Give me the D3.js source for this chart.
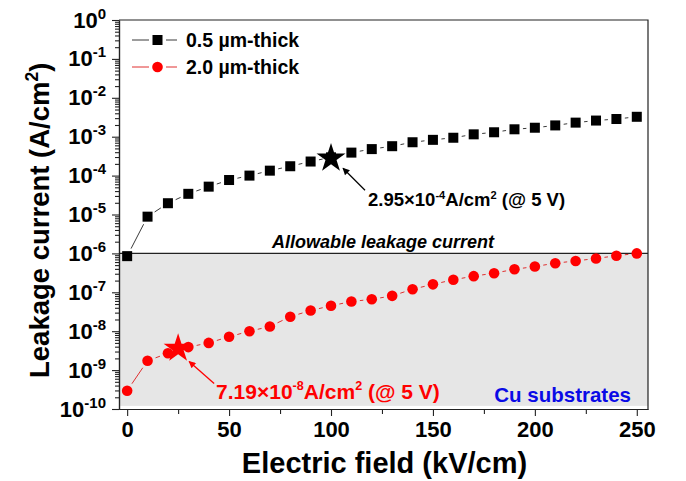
<!DOCTYPE html>
<html>
<head>
<meta charset="utf-8">
<script src="https://cdn.jsdelivr.net/npm/d3@7"></script>
<style>
  body { margin: 0; background: #fff; }
  svg { font-family: "Liberation Sans", Arial, sans-serif; font-weight: bold; }
</style>
</head>
<body>
<svg id="chart" width="686" height="481"></svg>
<script>
// Electric field values (kV/cm)
var fieldValues = [0, 10, 20, 30, 40, 50, 60, 70, 80, 90, 100, 110, 120, 130,
  140, 150, 160, 170, 180, 190, 200, 210, 220, 230, 240, 250];

// Leakage current (A/cm2) for each film
var thinCurrent = [8.5e-7, 8.8e-6, 1.95e-5, 3.4e-5, 5.2e-5, 7.7e-5, 1.0e-4, 1.34e-4,
  1.74e-4, 2.3e-4, 2.95e-4, 3.9e-4, 4.8e-4, 5.7e-4, 7.2e-4, 8.3e-4, 9.4e-4, 1.15e-3,
  1.3e-3, 1.55e-3, 1.7e-3, 1.95e-3, 2.3e-3, 2.6e-3, 2.85e-3, 3.25e-3];
var thickCurrent = [2.95e-10, 1.74e-9, 2.7e-9, 3.9e-9, 5.0e-9, 7.2e-9, 1.0e-8, 1.32e-8,
  2.36e-8, 3.4e-8, 4.5e-8, 5.8e-8, 6.6e-8, 8.1e-8, 1.2e-7, 1.6e-7, 2.1e-7, 2.6e-7,
  3.1e-7, 3.9e-7, 4.6e-7, 5.6e-7, 6.4e-7, 7.4e-7, 8.7e-7, 1.0e-6];

var seriesNames = ["0.5 \u00b5m-thick", "2.0 \u00b5m-thick"];

// Operating points at 5 V
var starField = [100, 25];
var starCurrent = [2.95e-4, 3.8e-9];
var starLabels = ["2.95\u00d710", "7.19\u00d710"];
var starExponents = ["-4", "-8"];

// Allowable leakage limit and bottom of the shaded band
var allowableCurrent = 1e-6;
var shadeFloor = 1.2e-10;

var xDomain = [-4, 255.5];
var yDomain = [1e-10, 1];
var xMajorTicks = [0, 50, 100, 150, 200, 250];
var xMinorTicks = [25, 75, 125, 175, 225];
var yExponents = [0, -1, -2, -3, -4, -5, -6, -7, -8, -9, -10];

var FONT_SIZE_TICK = 22;
var BLACK_LINE = "#3a3a3a";
var RED = "#ff0000";
var RED_LINE = "#e03030";

var svg = d3.select("#chart");
var plotLeft = 119, plotRight = 648, plotTop = 20, plotBottom = 409;

var xScale = d3.scaleLinear().domain(xDomain).range([plotLeft, plotRight]);
var yScale = d3.scaleLog().domain(yDomain).range([plotBottom, plotTop]);

// append text pieces, some of them raised as superscripts
function richText(sel, parts, supSize, rise) {
  var raised = false;
  parts.forEach(function (p) {
    var t = sel.append("tspan").text(p[0]);
    if (p[1]) {
      t.attr("font-size", supSize);
      if (!raised) t.attr("dy", -rise);
      raised = true;
    } else if (raised) {
      t.attr("dy", rise);
      raised = false;
    }
  });
}

// shaded region below allowable current
svg.append("rect")
  .attr("x", plotLeft)
  .attr("y", yScale(allowableCurrent))
  .attr("width", plotRight - plotLeft)
  .attr("height", yScale(shadeFloor) - yScale(allowableCurrent))
  .attr("fill", "#e6e6e6");

svg.append("line")
  .attr("x1", plotLeft).attr("x2", plotRight)
  .attr("y1", yScale(allowableCurrent)).attr("y2", yScale(allowableCurrent))
  .attr("stroke", "#222").attr("stroke-width", 1.1);

// frame (top and right)
svg.append("path")
  .attr("d", "M" + plotLeft + "," + plotTop + "H" + plotRight + "V" + plotBottom)
  .attr("fill", "none").attr("stroke", "#222").attr("stroke-width", 1.2);

// series lines with a small gap near each symbol
function drawGappedLine(values, color, gap) {
  var pts = fieldValues.map(function (f, i) { return [xScale(f), yScale(values[i])]; });
  var g = svg.append("g");
  for (var i = 0; i < pts.length - 1; i++) {
    var dx = pts[i + 1][0] - pts[i][0], dy = pts[i + 1][1] - pts[i][1];
    var len = Math.sqrt(dx * dx + dy * dy);
    if (len <= gap * 2) continue;
    var ux = dx / len, uy = dy / len;
    g.append("line")
      .attr("x1", pts[i][0] + ux * gap).attr("y1", pts[i][1] + uy * gap)
      .attr("x2", pts[i + 1][0] - ux * gap).attr("y2", pts[i + 1][1] - uy * gap)
      .attr("stroke", color).attr("stroke-width", 1);
  }
}

drawGappedLine(thinCurrent, BLACK_LINE, 8.5);
drawGappedLine(thickCurrent, RED_LINE, 8.5);

var SQ = 10;
svg.append("g").selectAll("rect")
  .data(fieldValues)
  .enter().append("rect")
  .attr("x", function (d) { return xScale(d) - SQ / 2; })
  .attr("y", function (d, i) { return yScale(thinCurrent[i]) - SQ / 2; })
  .attr("width", SQ).attr("height", SQ)
  .attr("fill", "#000");

svg.append("g").selectAll("circle")
  .data(fieldValues)
  .enter().append("circle")
  .attr("cx", function (d) { return xScale(d); })
  .attr("cy", function (d, i) { return yScale(thickCurrent[i]); })
  .attr("r", 5.3)
  .attr("fill", RED);

// stars + annotations
var star = d3.symbol().type(d3.symbolStar).size(260);
var starColors = ["#000", RED];
var annotations = [
  { size: 18.5, tx: 37, ty: 49, ax1: 34, ay1: 33, ax2: 12, ay2: 11 },
  { size: 21, tx: 38, ty: 51, ax1: 36, ay1: 36, ax2: 11, ay2: 14 }
];

var defs = svg.append("defs");
starColors.forEach(function (c, i) {
  defs.append("marker")
    .attr("id", "arrow" + i)
    .attr("viewBox", "0 0 10 10")
    .attr("refX", 9).attr("refY", 5)
    .attr("markerWidth", 9).attr("markerHeight", 7)
    .attr("markerUnits", "userSpaceOnUse")
    .attr("orient", "auto")
    .append("path").attr("d", "M0,0L10,5L0,10z").attr("fill", c);
});

starField.forEach(function (f, i) {
  var sx = xScale(f), sy = yScale(starCurrent[i]);
  var a = annotations[i];
  svg.append("path")
    .attr("d", star)
    .attr("transform", "translate(" + sx + "," + (sy + 1) + ")")
    .attr("fill", starColors[i]);

  svg.append("line")
    .attr("x1", sx + a.ax1).attr("y1", sy + a.ay1)
    .attr("x2", sx + a.ax2).attr("y2", sy + a.ay2)
    .attr("stroke", starColors[i]).attr("stroke-width", 1.3)
    .attr("marker-end", "url(#arrow" + i + ")");

  var t = svg.append("text")
    .attr("x", sx + a.tx).attr("y", sy + a.ty)
    .attr("font-size", a.size)
    .attr("fill", starColors[i]);
  richText(t, [[starLabels[i], false], [starExponents[i], true], ["A/cm", false],
    ["2", true], [" (@ 5 V)", false]], a.size * 0.6, a.size * 0.4);
});

svg.append("text")
  .attr("x", 383).attr("y", yScale(allowableCurrent) - 5)
  .attr("text-anchor", "middle")
  .attr("font-size", 18)
  .attr("font-style", "italic")
  .text("Allowable leakage current");

svg.append("text")
  .attr("x", 631).attr("y", 402)
  .attr("text-anchor", "end")
  .attr("font-size", 20.5)
  .attr("fill", "#0a0ae6")
  .text("Cu substrates");

// ##### Axes #####
var xAxis = d3.axisBottom(xScale).tickValues(xMajorTicks).tickSize(7).tickSizeOuter(0).tickPadding(5);
var xMinor = d3.axisBottom(xScale).tickValues(xMinorTicks).tickSize(5).tickSizeOuter(0).tickFormat("");

var gx = svg.append("g").attr("transform", "translate(0," + plotBottom + ")").call(xAxis);
svg.append("g").attr("transform", "translate(0," + plotBottom + ")").call(xMinor);
gx.selectAll("text").attr("font-size", FONT_SIZE_TICK).attr("fill", "#000")
  .attr("font-family", "Liberation Sans, Arial, sans-serif").attr("font-weight", "bold");

var yMinorTicks = [];
for (var e = -10; e < 0; e++) {
  for (var m = 2; m <= 9; m++) yMinorTicks.push(m * Math.pow(10, e));
}

var yAxis = d3.axisLeft(yScale)
  .tickValues(yExponents.map(function (e) { return Math.pow(10, e); }))
  .tickSize(7).tickSizeOuter(0).tickPadding(7)
  .tickFormat("");
var yMinor = d3.axisLeft(yScale).tickValues(yMinorTicks).tickSize(4).tickSizeOuter(0).tickFormat("");

var gy = svg.append("g").attr("transform", "translate(" + plotLeft + ",0)").call(yAxis);
svg.append("g").attr("transform", "translate(" + plotLeft + ",0)").call(yMinor);

gy.selectAll(".tick text").each(function (d) {
  var t = d3.select(this)
    .attr("font-size", FONT_SIZE_TICK).attr("fill", "#000")
    .attr("font-family", "Liberation Sans, Arial, sans-serif").attr("font-weight", "bold")
    .attr("dy", "0.32em").attr("x", -13);
  t.text(null);
  var exp = Math.round(Math.log10(d));
  richText(t, [["10", false], [String(exp), true]], 15, 9);
});

svg.selectAll(".domain").attr("stroke", "#222").attr("stroke-width", 1.2);
svg.selectAll(".tick line").attr("stroke", "#222").attr("stroke-width", 1.1);

// axis titles
svg.append("text")
  .attr("x", (plotLeft + plotRight) / 2 + 1).attr("y", 473)
  .attr("text-anchor", "middle")
  .attr("font-size", 29)
  .text("Electric field (kV/cm)");

// y title runs upward from the bottom of the plot
var yt = svg.append("text")
  .attr("transform", "translate(49,378) rotate(-90)")
  .attr("font-size", 27.5);
richText(yt, [["Leakage current (A/cm", false], ["2", true], [")", false]], 17.5, 11);

// ##### Legend #####
var legend = svg.append("g");
var legendY = [40, 67];
[0, 1].forEach(function (i) {
  var ly = legendY[i];
  var lineColor = i === 0 ? BLACK_LINE : RED_LINE;
  legend.append("line").attr("x1", 132).attr("x2", 149).attr("y1", ly).attr("y2", ly)
    .attr("stroke", lineColor).attr("stroke-width", 1);
  legend.append("line").attr("x1", 166).attr("x2", 177).attr("y1", ly).attr("y2", ly)
    .attr("stroke", lineColor).attr("stroke-width", 1);
  if (i === 0) {
    legend.append("rect").attr("x", 157.5 - SQ / 2).attr("y", ly - SQ / 2)
      .attr("width", SQ).attr("height", SQ).attr("fill", "#000");
  } else {
    legend.append("circle").attr("cx", 157.5).attr("cy", ly).attr("r", 5.3).attr("fill", RED);
  }
  legend.append("text").attr("x", 186).attr("y", ly + 7)
    .attr("font-size", 19.5)
    .text(seriesNames[i]);
});
</script>
</body>
</html>
